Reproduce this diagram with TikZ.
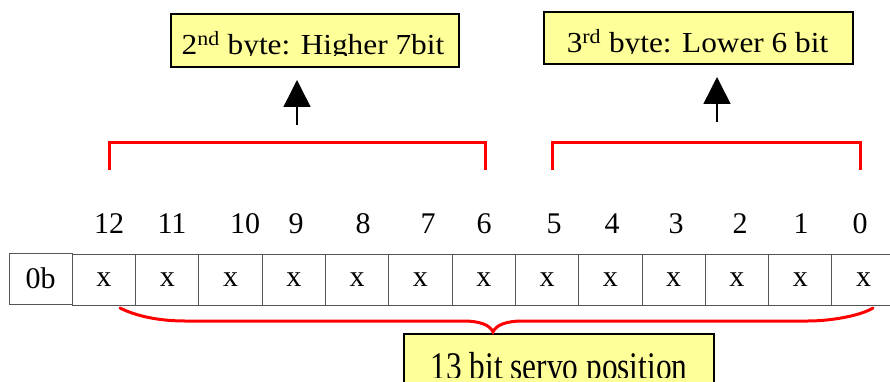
\documentclass[tikz,border=0pt]{standalone}
\usepackage{fontspec}
\setmainfont{Liberation Serif}
\usetikzlibrary{arrows.meta}
\definecolor{notefill}{HTML}{FFFF99}
\definecolor{cellline}{HTML}{555555}
\definecolor{markred}{HTML}{FF0000}
\tikzset{
  cellbox/.style={draw=cellline, line width=1pt, minimum width=63.3pt, minimum height=51pt,
    inner sep=0pt, font=\fontsize{30}{32}\selectfont},
  bitnum/.style={anchor=base, inner sep=0pt, font=\fontsize{30}{32}\selectfont},
  notebox/.style={draw=black, line width=2pt, fill=notefill},
  notetext/.style={anchor=base, inner sep=0pt, font=\fontsize{29}{32}\selectfont},
  bracket/.style={draw=markred, line width=3pt},
  brace/.style={draw=markred, line width=3pt, line cap=round},
  uparrow/.style={draw=black, line width=1.5pt, -{Triangle[width=27pt,length=27pt]}},
}
\begin{document}
\begin{tikzpicture}[x=1pt,y=-1pt]
\useasboundingbox (0,0) rectangle (890,382);
\clip (0,0) rectangle (890,382);
\fill[white] (0,0) rectangle (890,382);

% register cells
\foreach \i in {0,...,13} {
  \pgfmathsetmacro{\cx}{9+63.3*\i+31.65}
  \ifnum\i=0
    \node[cellbox] (c\i) at (\cx,278.5) {0b};
  \else
    \node[cellbox] (c\i) at (\cx,279.5) {x};
  \fi
}

% bit numbers above the cells
\foreach \b/\px in {12/109,11/172,10/245,9/296,8/363,7/428,6/484,5/554,4/612,3/676,2/740,1/801,0/860} {
  \node[bitnum] (n\b) at (\px,233) {\b};
}

% note boxes
\node[notebox, minimum width=288pt, minimum height=53pt, anchor=north west] (hi) at (170,13) {};
\node[notebox, minimum width=309pt, minimum height=52pt, anchor=north west] (lo) at (543,11) {};
\node[notebox, minimum width=310pt, minimum height=60pt, anchor=north west] (pos) at (403,333) {};

\begin{scope}
  \clip (172,15) rectangle (456,56);
  \node[notetext] (hitext) at (313,55) {\scalebox{1.08}[1]{2\textsuperscript{nd} byte: Higher 7bit}};
\end{scope}
\begin{scope}
  \clip (545,13) rectangle (850,54);
  \node[notetext] (lotext) at (697.5,53) {\scalebox{1.08}[1]{3\textsuperscript{rd} byte: Lower 6 bit}};
\end{scope}
\begin{scope}
  \clip (405,335) rectangle (711,377);
  \node[notetext] (postext) at (559,379) {\scalebox{1.08}[1.35]{13 bit servo position}};
\end{scope}

% brackets over the two byte groups
\coordinate (b1a) at (109,170);
\coordinate (b1b) at (485,170);
\coordinate (b2a) at (552,170);
\coordinate (b2b) at (860,170);
\draw[bracket] (b1a) -- ++(0,-27) -| (b1b);
\draw[bracket] (b2a) -- ++(0,-27) -| (b2b);

% arrows up to the note boxes
\coordinate (a1s) at (297,125);
\coordinate (a1e) at (297,80);
\coordinate (a2s) at (717,122);
\coordinate (a2e) at (717,77);
\draw[uparrow] (a1s) -- (a1e);
\draw[uparrow] (a2s) -- (a2e);

% brace under the 13 data bits
\coordinate (brL) at (120,308);
\coordinate (brM) at (493,332);
\coordinate (brR) at (873,308);
\draw[brace] (brL) .. controls (140,318) and (165,321) .. (185,321)
  -- (463,321) .. controls (480,321) and (490,325) .. (brM)
  .. controls (496,325) and (506,321) .. (523,321)
  -- (808,321) .. controls (830,321) and (860,316) .. (brR);
\end{tikzpicture}
\end{document}
